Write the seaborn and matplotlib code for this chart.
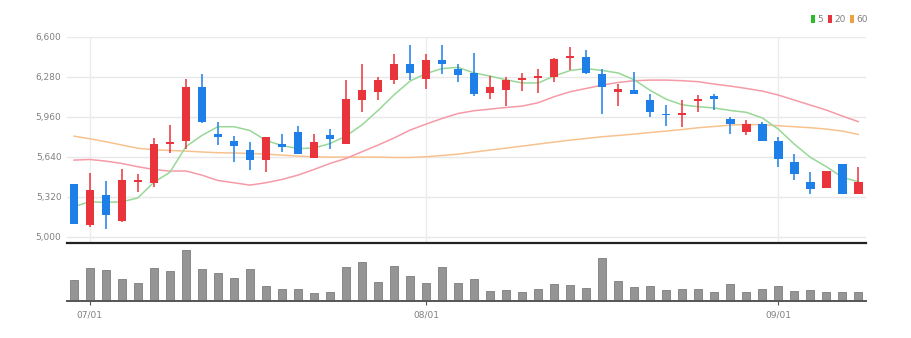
import numpy as np
import pandas as pd
import matplotlib
matplotlib.use("Agg")
import matplotlib.pyplot as plt
from matplotlib.patches import Patch
import seaborn as sns

# ---------------- data ----------------
opens = [5420, 5090, 5330, 5125, 5440, 5430, 5745, 5765, 6195, 5825,
         5765, 5690, 5615, 5740, 5840, 5630, 5810, 5745, 6095, 6155,
         6255, 6380, 6265, 6410, 6340, 6310, 6150, 6175, 6252, 6270,
         6280, 6430, 6440, 6305, 6155, 6175, 6095, 5985, 5975, 6085,
         6125, 5945, 5840, 5900, 5765, 5595, 5440, 5390, 5580, 5345]
highs = [5420, 5510, 5445, 5545, 5500, 5790, 5895, 6265, 6305, 5915,
         5805, 5755, 5800, 5825, 5885, 5820, 5865, 6250, 6385, 6275,
         6460, 6535, 6460, 6535, 6380, 6470, 6285, 6275, 6310, 6340,
         6430, 6520, 6490, 6345, 6220, 6315, 6145, 6055, 6090, 6135,
         6140, 5955, 5930, 5920, 5795, 5660, 5515, 5525, 5580, 5555]
lows = [5100, 5080, 5060, 5120, 5360, 5400, 5670, 5705, 5910, 5730,
        5600, 5530, 5520, 5680, 5665, 5630, 5700, 5745, 6000, 6090,
        6220, 6255, 6185, 6300, 6240, 6125, 6105, 6045, 6165, 6150,
        6240, 6335, 6305, 5985, 6045, 6145, 5960, 5885, 5875, 6000,
        6015, 5820, 5815, 5765, 5555, 5455, 5340, 5390, 5345, 5345]
closes = [5100, 5370, 5170, 5450, 5456, 5740, 5760, 6195, 5915, 5800,
          5725, 5615, 5800, 5715, 5665, 5755, 5780, 6105, 6170, 6250,
          6380, 6310, 6410, 6380, 6295, 6145, 6200, 6250, 6266, 6284,
          6425, 6444, 6310, 6200, 6180, 6145, 6000, 5971, 5989, 6099,
          6100, 5900, 5900, 5765, 5625, 5500, 5385, 5525, 5345, 5440]
volumes = [83, 131, 123, 88, 72, 131, 120, 203, 125, 109,
           89, 125, 59, 48, 48, 29, 35, 133, 156, 76,
           140, 99, 69, 133, 69, 85, 39, 43, 36, 47,
           65, 61, 52, 169, 79, 55, 59, 43, 47, 48,
           33, 65, 36, 47, 60, 40, 43, 33, 36, 36]
ma5 = [5240, 5280, 5275, 5280, 5310, 5435, 5515, 5720, 5810, 5880,
       5880, 5850, 5770, 5730, 5705, 5710, 5745, 5805, 5895, 6010,
       6135, 6245, 6305, 6345, 6355, 6310, 6285, 6255, 6230, 6230,
       6285, 6330, 6345, 6330, 6310, 6255, 6170, 6100, 6055, 6040,
       6030, 6010, 5995, 5950, 5860, 5740, 5635, 5560, 5475, 5440]
ma20 = [5613, 5618, 5605, 5586, 5560, 5538, 5525, 5526, 5493, 5450,
        5432, 5413, 5432, 5458, 5493, 5538, 5586, 5626, 5680, 5733,
        5790, 5853, 5901, 5946, 5986, 6008, 6021, 6034, 6045, 6072,
        6120, 6160, 6186, 6213, 6234, 6248, 6253, 6253, 6248, 6240,
        6221, 6205, 6186, 6165, 6133, 6093, 6053, 6013, 5965, 5920]
ma60 = [5805, 5784, 5760, 5734, 5708, 5696, 5690, 5685, 5678, 5672,
        5670, 5666, 5661, 5653, 5645, 5640, 5637, 5637, 5637, 5637,
        5634, 5634, 5640, 5650, 5661, 5677, 5693, 5709, 5725, 5741,
        5757, 5773, 5786, 5800, 5810, 5821, 5834, 5845, 5858, 5872,
        5882, 5893, 5898, 5896, 5888, 5880, 5872, 5861, 5845, 5818]
tick_pos = [1, 22, 44]
tick_labels = ["07/01", "08/01", "09/01"]
price_ticks = [5000, 5320, 5640, 5960, 6280, 6600]
legend_labels = ["5", "20", "60"]

# ---------------- style ----------------
sns.set_theme(style="white")
plt.rcParams["font.family"] = ["Liberation Sans Narrow", "DejaVu Sans"]

UP = "#e8343a"
DOWN = "#1f7fe8"
C5, C20, C60 = "#97d897", "#f59aa6", "#f7c28f"
TXT = "#808080"

df = pd.DataFrame({"i": np.arange(len(opens)), "open": opens, "high": highs,
                   "low": lows, "close": closes, "volume": volumes,
                   "ma5": ma5, "ma20": ma20, "ma60": ma60})

W, H = 911, 338
fig = plt.figure(figsize=(W / 100, H / 100), dpi=100)
L, R = 67, 866
ax = fig.add_axes([L / W, 1 - 243 / H, (R - L) / W, (243 - 36.7) / H])
axv = fig.add_axes([L / W, 1 - 300.7 / H, (R - L) / W, (300.7 - 245) / H])

# price panel grid
for v in price_ticks:
    ax.axhline(v, color="#e9e9e9", lw=1, zorder=0)
for p in tick_pos:
    ax.axvline(p, color="#ececec", lw=1, zorder=0)

# moving averages
sns.lineplot(data=df, x="i", y="ma60", ax=ax, color=C60, lw=1.1, zorder=2)
sns.lineplot(data=df, x="i", y="ma20", ax=ax, color=C20, lw=1.1, zorder=2)
sns.lineplot(data=df, x="i", y="ma5", ax=ax, color=C5, lw=1.1, zorder=2)

# candles
up = df["close"] >= df["open"]
cols = np.where(up, UP, DOWN)
ax.vlines(df["i"], df["low"], df["high"], colors=cols, lw=1.1, zorder=3)
body_lo = np.minimum(df["open"], df["close"])
body_h = np.maximum(np.abs(df["close"] - df["open"]), 10)
ax.bar(df["i"], body_h, bottom=body_lo, width=0.52, color=cols, zorder=4, linewidth=0)

ax.set_xlim(-0.42, 49.47)
ax.set_ylim(4950, 6600)
ax.set_yticks(price_ticks)
ax.set_yticklabels([f"{v:,}" for v in price_ticks])
ax.tick_params(axis="y", length=0, pad=4, labelsize=6.5, labelcolor=TXT)
ax.set_xticks([])
ax.set_xlabel("")
ax.set_ylabel("")
for s in ["top", "left", "right"]:
    ax.spines[s].set_visible(False)
ax.spines["bottom"].set_color("#222222")
ax.spines["bottom"].set_linewidth(1.6)

# volume panel
sns.barplot(data=df, x="i", y="volume", ax=axv, native_scale=True, width=0.5,
            color="#959595", saturation=1, errorbar=None, edgecolor="#7d7d7d",
            linewidth=0.6)
axv.set_xlim(-0.42, 49.47)
axv.set_ylim(0, 223)
axv.set_yticks([])
axv.set_xticks(tick_pos)
axv.set_xticklabels(tick_labels)
axv.tick_params(axis="x", bottom=True, length=3, width=0.8, color="#555555",
                pad=4, labelsize=6.5, labelcolor=TXT)
axv.set_xlabel("")
axv.set_ylabel("")
for s in ["top", "left", "right"]:
    axv.spines[s].set_visible(False)
axv.spines["bottom"].set_color("#555555")
axv.spines["bottom"].set_linewidth(1.4)

# legend
handles = [Patch(facecolor=c, edgecolor="none") for c in ["#2dbb2d", "#e8343c", "#f0a040"]]
fig.legend(handles, legend_labels, loc="upper right", bbox_to_anchor=(868 / W, 1 - 15 / H),
           ncol=3, frameon=False, fontsize=6.5, labelcolor=TXT, handlelength=0.45,
           handleheight=0.9, handletextpad=0.25, columnspacing=0.5, borderpad=0,
           borderaxespad=0)

fig.savefig("out.png", dpi=100)
